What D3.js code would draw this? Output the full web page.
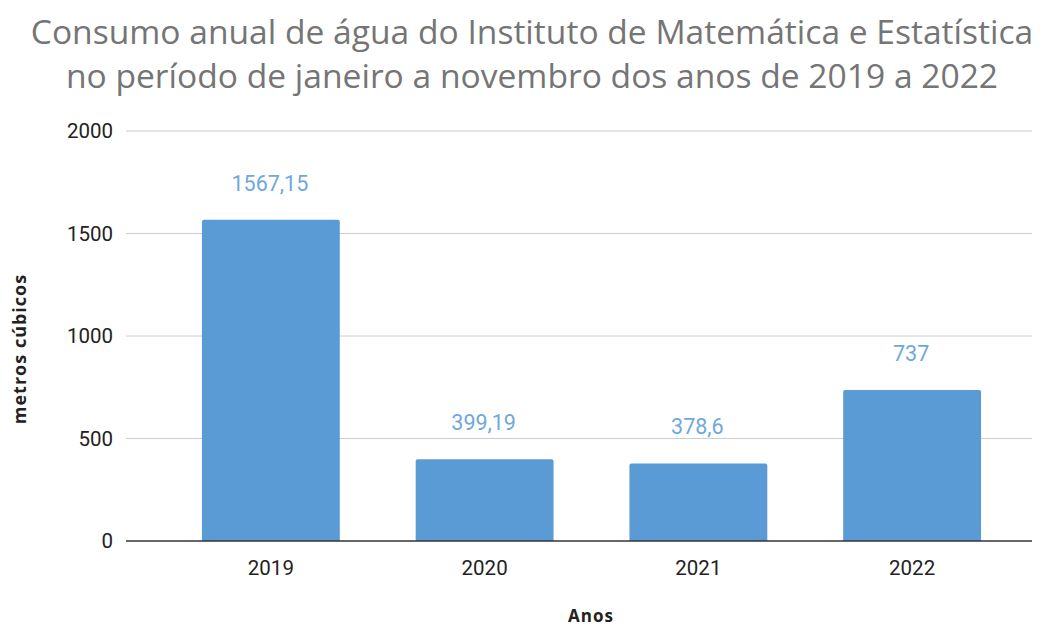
<!DOCTYPE html>
<html>
<head>
<meta charset="utf-8">
<script src="https://cdn.jsdelivr.net/npm/d3@7"></script>
<style>
  body { margin: 0; background: #fff; }
</style>
</head>
<body>
<script>
// data
const anos = ["2019", "2020", "2021", "2022"];
const consumo = [1567.15, 399.19, 378.6, 737];
const rotulos = ["1567,15", "399,19", "378,6", "737"];
const yTicks = [0, 500, 1000, 1500, 2000];
const titulo = [
  "Consumo anual de água do Instituto de Matemática e Estatística",
  "no período de janeiro a novembro dos anos de 2019 a 2022"
];

const w = 1047, h = 629;
const gridLeft = 126, gridRight = 1032;

const svg = d3.select("body").append("svg")
  .attr("width", w)
  .attr("height", h);

const x = d3.scaleBand()
  .domain(anos)
  .range([164, 1019])
  .paddingInner(0.355)
  .paddingOuter(0.1775);

const y = d3.scaleLinear()
  .domain([0, 2000])
  .range([541, 131]);

// title
svg.append("g").selectAll("text")
  .data(titulo)
  .enter().append("text")
  .attr("x", 532)
  .attr("y", (d, i) => 44 + i * 44)
  .attr("text-anchor", "middle")
  .attr("font-family", "Open Sans")
  .attr("font-size", 33.6)
  .attr("fill", "#757575")
  .text(d => d);

// gridlines
svg.append("g").selectAll("line")
  .data(yTicks.filter(d => d > 0))
  .enter().append("line")
  .attr("x1", gridLeft)
  .attr("x2", gridRight)
  .attr("y1", d => y(d))
  .attr("y2", d => y(d))
  .attr("stroke", "#cccccc")
  .attr("stroke-width", 1);

// y axis labels
const yAxis = svg.append("g")
  .attr("transform", "translate(" + gridLeft + ",0)")
  .call(d3.axisLeft(y).tickValues(yTicks).tickSize(0).tickPadding(13).tickFormat(d3.format("d")));
yAxis.select(".domain").remove();
yAxis.selectAll("text")
  .attr("font-family", "Roboto")
  .attr("font-size", 20.5)
  .attr("fill", "#222");

// bars
svg.append("g").selectAll("path")
  .data(consumo)
  .enter().append("path")
  .attr("fill", "#5b9bd5")
  .attr("d", (d, i) => {
    const x0 = x(anos[i]), bw = x.bandwidth();
    const top = y(d), base = y(0), r = 2;
    return "M" + x0 + "," + base +
      "V" + (top + r) +
      "Q" + x0 + "," + top + " " + (x0 + r) + "," + top +
      "H" + (x0 + bw - r) +
      "Q" + (x0 + bw) + "," + top + " " + (x0 + bw) + "," + (top + r) +
      "V" + base + "Z";
  });

// value labels
svg.append("g").selectAll("text")
  .data(consumo)
  .enter().append("text")
  .attr("x", (d, i) => x(anos[i]) + x.bandwidth() / 2 - 1)
  .attr("y", d => y(d) - 29)
  .attr("text-anchor", "middle")
  .attr("font-family", "Roboto")
  .attr("font-size", 21.5)
  .attr("fill", "#6fa8dc")
  .text((d, i) => rotulos[i]);

// zero baseline
svg.append("line")
  .attr("x1", gridLeft)
  .attr("x2", gridRight)
  .attr("y1", y(0))
  .attr("y2", y(0))
  .attr("stroke", "#333")
  .attr("stroke-width", 1.5);

// x axis labels
svg.append("g").selectAll("text")
  .data(anos)
  .enter().append("text")
  .attr("x", d => x(d) + x.bandwidth() / 2)
  .attr("y", 575)
  .attr("text-anchor", "middle")
  .attr("font-family", "Roboto")
  .attr("font-size", 20.5)
  .attr("fill", "#222")
  .text(d => d);

// axis titles
svg.append("text")
  .attr("text-anchor", "middle")
  .attr("transform", "translate(26,349)rotate(-90)")
  .attr("font-family", "Open Sans")
  .attr("font-size", 18)
  .attr("font-weight", "bold")
  .attr("letter-spacing", 1)
  .attr("fill", "#222")
  .text("metros cúbicos");

svg.append("text")
  .attr("text-anchor", "middle")
  .attr("x", 591)
  .attr("y", 622)
  .attr("font-family", "Open Sans")
  .attr("font-size", 17)
  .attr("font-weight", "bold")
  .attr("letter-spacing", 1)
  .attr("fill", "#222")
  .text("Anos");
</script>
</body>
</html>
